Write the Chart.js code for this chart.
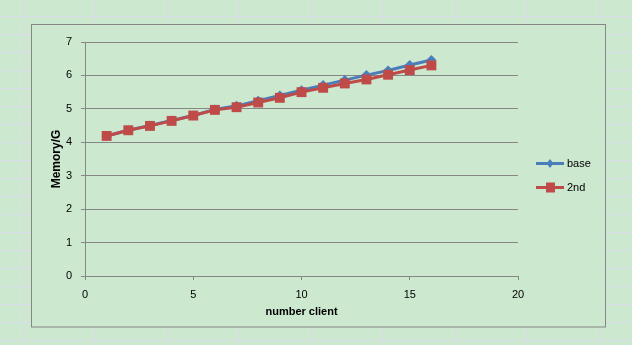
<!DOCTYPE html>
<html>
<head>
<meta charset="utf-8">
<script src="https://cdn.jsdelivr.net/npm/chart.js@4/dist/chart.umd.min.js"></script>
<style>
  html, body { margin: 0; padding: 0; background: #CCE8CF; }
  #wrap { width: 632px; height: 345px; position: relative; }
</style>
</head>
<body>
<div id="wrap"><canvas id="c" width="632" height="345"></canvas></div>
<script>
const clients = [1, 2, 3, 4, 5, 6, 7, 8, 9, 10, 11, 12, 13, 14, 15, 16];
const baseValues = [4.19, 4.36, 4.50, 4.65, 4.80, 4.98, 5.09, 5.24, 5.40, 5.56, 5.71, 5.86, 6.01, 6.15, 6.31, 6.46];
const secondValues = [4.19, 4.36, 4.49, 4.64, 4.80, 4.97, 5.05, 5.19, 5.33, 5.50, 5.63, 5.76, 5.88, 6.02, 6.16, 6.30];
const seriesNames = ['base', '2nd'];
const xTitle = 'number client';
const yTitle = 'Memory/G';

const FONT = '"Liberation Sans", Arial, sans-serif';
const BLUE = '#4A7EBB';
const RED = '#BE4B48';
const GRIDC = '#868686';

const bgPlugin = {
  id: 'sheetBg',
  beforeDraw(chart) {
    const ctx = chart.ctx;
    ctx.save();
    ctx.fillStyle = '#CCE8CF';
    ctx.fillRect(0, 0, chart.width, chart.height);
    ctx.strokeStyle = '#D8DAEA';
    ctx.lineWidth = 1;
    ctx.beginPath();
    for (let x = 23.5; x < chart.width; x += 72) { ctx.moveTo(x, 0); ctx.lineTo(x, chart.height); }
    for (let y = 16.5; y < chart.height; y += 18) { ctx.moveTo(0, y); ctx.lineTo(chart.width, y); }
    ctx.stroke();
    ctx.fillStyle = '#CCE8CF';
    ctx.fillRect(31.5, 24.5, 574, 302.5);
    ctx.strokeStyle = '#868686';
    ctx.strokeRect(31.5, 24.5, 574, 302.5);
    ctx.restore();
  }
};

const legendPlugin = {
  id: 'customLegend',
  afterDraw(chart) {
    const ctx = chart.ctx;
    ctx.save();
    const ys = [163.5, 187.5];
    chart.data.datasets.forEach((ds, i) => {
      const y = ys[i];
      ctx.strokeStyle = ds.borderColor;
      ctx.lineWidth = 3;
      ctx.beginPath();
      ctx.moveTo(536, y); ctx.lineTo(564, y);
      ctx.stroke();
      ctx.fillStyle = ds.borderColor;
      if (ds.pointStyle === 'rect') {
        ctx.fillRect(546, y - 5, 9, 10);
      } else {
        ctx.beginPath();
        ctx.moveTo(550, y - 4.5); ctx.lineTo(553.5, y); ctx.lineTo(550, y + 4.5); ctx.lineTo(546.5, y);
        ctx.closePath(); ctx.fill();
      }
      ctx.fillStyle = '#000';
      ctx.font = '11px ' + FONT;
      ctx.textAlign = 'left';
      ctx.textBaseline = 'middle';
      ctx.fillText(ds.label, 567, y + 0.5);
    });
    ctx.restore();
  }
};

const toPoints = (vals) => clients.map((c, i) => ({ x: c, y: vals[i] }));

new Chart(document.getElementById('c'), {
  type: 'line',
  data: {
    datasets: [
      {
        label: seriesNames[0],
        data: toPoints(baseValues),
        borderColor: BLUE,
        backgroundColor: BLUE,
        borderWidth: 3,
        pointStyle: 'rectRot',
        pointRadius: 5,
        pointBorderWidth: 0,
        pointBackgroundColor: BLUE,
        tension: 0,
        order: 2
      },
      {
        label: seriesNames[1],
        data: toPoints(secondValues),
        borderColor: RED,
        backgroundColor: RED,
        borderWidth: 3,
        pointStyle: 'rect',
        pointRadius: 7,
        pointBorderWidth: 0,
        pointBackgroundColor: RED,
        tension: 0,
        order: 1
      }
    ]
  },
  options: {
    responsive: false,
    animation: false,
    devicePixelRatio: 1,
    layout: { padding: { left: 31, top: 42, right: 114, bottom: 18 } },
    plugins: { legend: { display: false }, tooltip: { enabled: false } },
    scales: {
      x: {
        type: 'linear',
        min: 0, max: 20,
        afterFit: (s) => { s.height = 51; },
        ticks: { stepSize: 5, color: '#000', font: { family: FONT, size: 11 }, padding: 8, maxRotation: 0 },
        grid: { drawOnChartArea: false, drawTicks: true, tickLength: 4, color: GRIDC, lineWidth: 1 },
        border: { color: GRIDC, width: 1 },
        title: { display: true, text: xTitle, color: '#000', font: { family: FONT, size: 11, weight: 'bold' }, padding: { top: 0, bottom: 8 } }
      },
      y: {
        min: 0, max: 7,
        afterFit: (s) => { s.width = 54; },
        ticks: { stepSize: 1, color: '#000', font: { family: FONT, size: 11 }, padding: 9 },
        grid: { drawOnChartArea: true, drawTicks: true, tickLength: 4, color: GRIDC, lineWidth: 1 },
        border: { color: GRIDC, width: 1 },
        title: { display: true, text: yTitle, color: '#000', font: { family: FONT, size: 12, weight: 'bold' }, padding: { top: 18, bottom: 0 } }
      }
    }
  },
  plugins: [bgPlugin, legendPlugin]
});
</script>
</body>
</html>
